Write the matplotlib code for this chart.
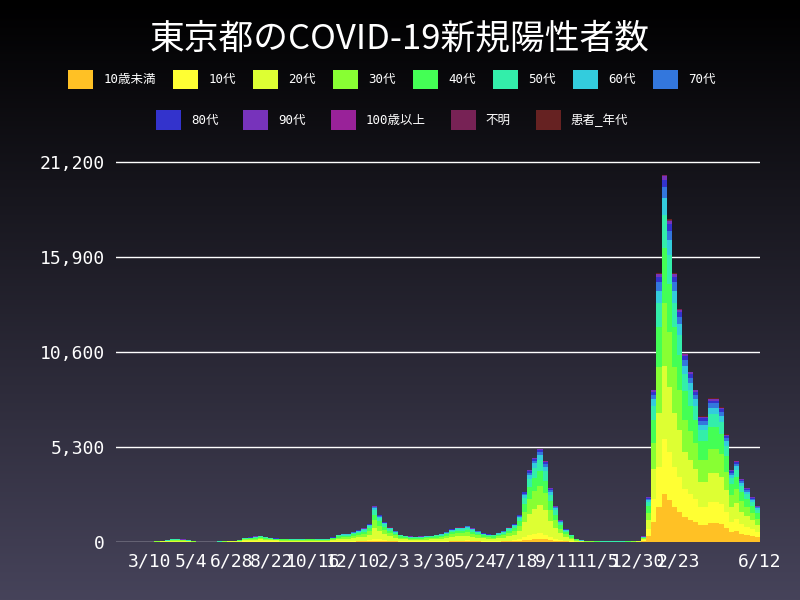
import numpy as np, pandas as pd
import matplotlib
matplotlib.use("Agg")
import matplotlib.pyplot as plt
from matplotlib.colors import LinearSegmentedColormap

plt.rcParams['font.family'] = ['DejaVu Sans Mono', 'Noto Sans CJK JP']

groups = ['10歳未満','10代','20代','30代','40代','50代','60代','70代','80代','90代','100歳以上','不明','患者_年代']
colors = ['#FFC125','#FFFF33','#DDFF33','#88FF33','#44FF55','#33EEAA','#33CCDD','#3377DD','#3333CC','#7733BB','#992299','#772255','#662222']

weekly_totals = [0,1,2,3,5,8, 10,15,30,50,90, 150,160,130,90, 40,15,8,5, 15,20,30,45,60,
 120,220,250,300, 350,280,220,190,170, 170,160,150,150, 170,170,160,150,
 160,250,400,450,450, 550,650,750,1000, 2000,1500,1100,800, 600,400,350,300,
 280,300,320,350,400, 450,550,700,800, 800,900,750,600,480, 420,400,500,600,
 800,1000,1500,2800, 4000,4700,5200,4500,3000, 2000,1200,700,400, 180,80,40,30,
 25,20,20,20,20, 20,25,35,50, 300,2500,8500,15000,20500, 18000,15000,13000,10500,
 9500,8500,7000,7000, 8000,8000,7500,6000, 4000,4500,3500,3000,2500, 2000]
shares_before_2022 = [0.03,0.06,0.30,0.21,0.16,0.12,0.05,0.03,0.025,0.01,0.001,0.002,0.002]
shares_2022 = [0.13,0.15,0.20,0.17,0.15,0.09,0.045,0.03,0.02,0.01,0.001,0.002,0.002]

dates = pd.date_range('2020-01-20', periods=len(weekly_totals), freq='7D')
tot = np.array(weekly_totals, float)
sh = np.array([shares_2022 if d.year >= 2022 else shares_before_2022 for d in dates])
vals = tot[:, None] * sh

fig = plt.figure(figsize=(8, 6), dpi=100)
bg = fig.add_axes([0, 0, 1, 1], zorder=-10)
grad = np.linspace(0, 1, 256)[:, None]
cm = LinearSegmentedColormap.from_list('g', ['#000000', '#46435a'])
bg.imshow(grad, aspect='auto', cmap=cm, extent=[0, 1, 0, 1], origin='upper')
bg.axis('off')

ax = fig.add_axes([0.145, 0.097, 0.805, 0.645])
ax.set_facecolor('none')
bottom = np.zeros(len(dates))
for i, g in enumerate(groups):
    ax.bar(dates, vals[:, i], width=7, bottom=bottom, color=colors[i], label=g, align='edge', linewidth=0)
    bottom += vals[:, i]

ax.set_ylim(0, 21600)
ax.set_yticks([0, 5300, 10600, 15900, 21200])
ax.set_yticklabels(['0', '5,300', '10,600', '15,900', '21,200'])
ax.grid(axis='y', color='white', lw=1)
ax.set_axisbelow(True)
ticks = list(pd.date_range('2020-03-10', periods=14, freq='55D')) + [pd.Timestamp('2022-06-12')]
ax.set_xticks(ticks)
ax.set_xticklabels([f'{t.month}/{t.day}' for t in ticks])
ax.set_xlim(pd.Timestamp('2020-01-24'), pd.Timestamp('2022-06-13'))
ax.tick_params(colors='white', labelsize=13, length=0, pad=8)
for s in ax.spines.values():
    s.set_visible(False)

fig.text(0.5, 0.935, '東京都のCOVID-19新規陽性者数', ha='center', va='center', color='white', fontsize=25,
         family=['Noto Sans CJK JP'])
h, l = ax.get_legend_handles_labels()
fig.legend(h[:8], l[:8], loc='center', bbox_to_anchor=(0.49, 0.868), ncol=8, frameon=False,
           labelcolor='white', fontsize=9, handlelength=2, handleheight=2, columnspacing=1.4)
fig.legend(h[8:], l[8:], loc='center', bbox_to_anchor=(0.49, 0.80), ncol=5, frameon=False,
           labelcolor='white', fontsize=9, handlelength=2, handleheight=2, columnspacing=2.0)
fig.savefig('out.png', dpi=100)
